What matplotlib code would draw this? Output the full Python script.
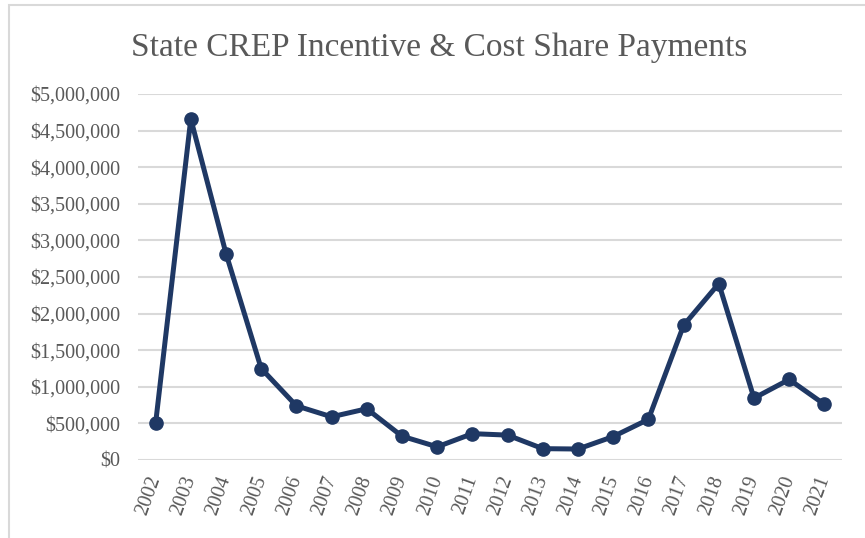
import matplotlib
matplotlib.use("Agg")
import matplotlib.pyplot as plt
from matplotlib.patches import Rectangle
from matplotlib.ticker import FuncFormatter, MultipleLocator

plt.rcParams['font.family'] = ['Liberation Serif', 'DejaVu Serif']

# Дані
years = ['2002', '2003', '2004', '2005', '2006', '2007', '2008', '2009', '2010', '2011',
         '2012', '2013', '2014', '2015', '2016', '2017', '2018', '2019', '2020', '2021']
payments = [500000, 4660000, 2820000, 1250000, 740000, 590000, 700000, 325000, 180000, 360000,
            340000, 155000, 150000, 320000, 555000, 1840000, 2410000, 845000, 1100000, 760000]

title = 'State CREP Incentive & Cost Share Payments'

line_color = '#1F3864'
text_color = '#595959'
grid_color = '#D9D9D9'

fig = plt.figure(figsize=(8.65, 5.38), dpi=100)
ax = fig.add_axes([138 / 865, 1 - 460 / 538, (842 - 138) / 865, (460 - 94) / 538])

x = list(range(len(years)))
ax.plot(x, payments, color=line_color, linewidth=3.6, marker='o', markersize=9.5,
        solid_joinstyle='round', zorder=3, clip_on=False)

ax.set_xlim(-0.5, len(years) - 0.5)
ax.set_ylim(0, 5000000)
ax.yaxis.set_major_locator(MultipleLocator(500000))
ax.yaxis.set_major_formatter(FuncFormatter(lambda v, p: '${:,.0f}'.format(v)))
ax.grid(axis='y', color=grid_color, linewidth=1.5)
ax.set_axisbelow(True)

ax.set_xticks(x)
ax.set_xticklabels(years, rotation=70, ha='right', va='center', rotation_mode='anchor')

for s in ax.spines.values():
    s.set_visible(False)
ax.tick_params(axis='both', length=0, colors=text_color, labelsize=14.5)
ax.tick_params(axis='y', pad=13)
ax.tick_params(axis='x', pad=12)

fig.text(0.508, 1 - 56 / 538, title, ha='center', va='baseline', fontsize=24, color=text_color)

# Рамка області діаграми
fig.patches.append(Rectangle((9 / 865, -0.1), 1.2, 1.1 - 5 / 538, transform=fig.transFigure,
                             fill=False, edgecolor=grid_color, linewidth=1.5))

fig.savefig('out.png', dpi=100)
